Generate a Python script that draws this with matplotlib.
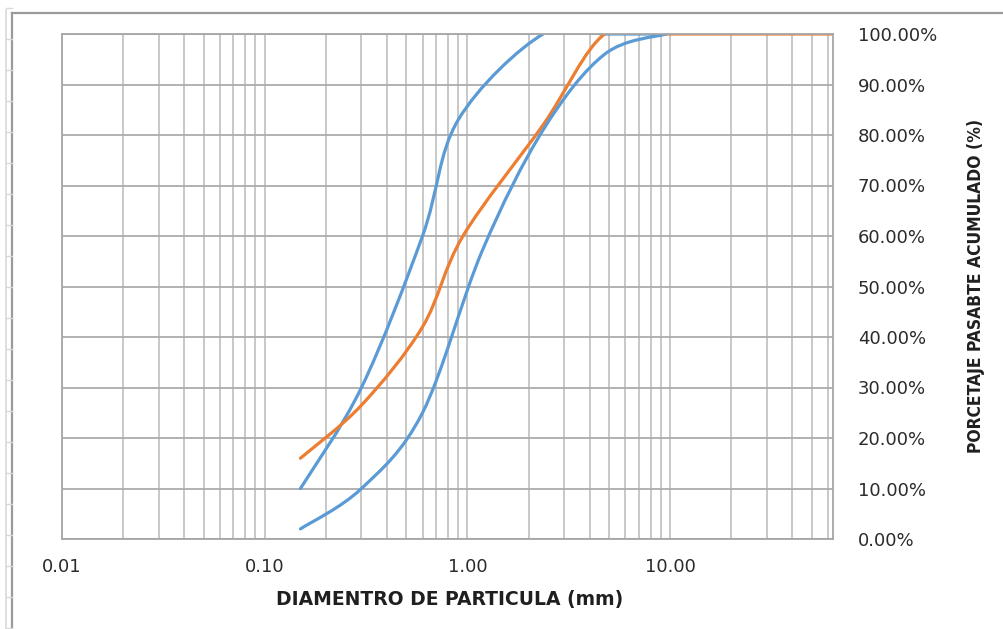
import numpy as np
import matplotlib.pyplot as plt
from matplotlib.path import Path
from matplotlib.patches import PathPatch
from matplotlib.lines import Line2D
from matplotlib.ticker import FixedLocator, FuncFormatter, LogLocator, NullFormatter

# abertura de tamiz (mm) y porcentaje pasante acumulado
tamiz_sup = [0.15, 0.30, 0.60, 0.90, 2.36, 4.75, 9.50]
pasa_sup = [10, 30, 60, 83, 100, 100, 100]

tamiz_muestra = [0.15, 0.30, 0.60, 0.95, 2.36, 4.75, 9.50, 12.5, 19.0, 25.0, 37.5, 50.0, 63.5]
pasa_muestra = [16, 26.5, 42, 60, 82, 100, 100, 100, 100, 100, 100, 100, 100]

tamiz_inf = [0.15, 0.30, 0.60, 1.18, 2.36, 4.75, 9.50]
pasa_inf = [2, 10, 25, 57, 81, 96, 100]

x_ticks = [0.01, 0.1, 1, 10]
y_ticks = list(range(0, 101, 10))

AZUL = '#5b9bd5'
NARANJA = '#ed7d31'


def curva_suave(x, y):
    # linea suavizada tipo Excel: bezier cubica en espacio log10(x)
    p = np.column_stack([np.log10(x), y]).astype(float)
    n = len(p)
    verts = [p[0]]
    codes = [Path.MOVETO]
    for i in range(n - 1):
        prev = p[i - 1] if i > 0 else p[i]
        nxt = p[i + 2] if i + 2 < n else p[i + 1]
        c1 = p[i] + (p[i + 1] - prev) / 6
        c2 = p[i + 1] - (nxt - p[i]) / 6
        verts += [c1, c2, p[i + 1]]
        codes += [Path.CURVE4] * 3
    verts = np.array(verts)
    verts[:, 0] = 10 ** verts[:, 0]
    return Path(verts, codes)


fig = plt.figure(figsize=(10.04, 6.29), dpi=100)
ax = fig.add_axes([62 / 1004, 1 - 539 / 629, (833 - 62) / 1004, (539 - 34) / 629])

ax.set_xscale('log')
ax.set_xlim(0.01, 63.5)
ax.set_ylim(0, 100)

ax.xaxis.set_major_locator(FixedLocator(x_ticks))
ax.xaxis.set_minor_locator(LogLocator(base=10, subs=np.arange(2, 10), numticks=20))
ax.xaxis.set_minor_formatter(NullFormatter())
ax.xaxis.set_major_formatter(FuncFormatter(lambda v, pos: f'{v:.2f}'))

ax.yaxis.tick_right()
ax.yaxis.set_major_locator(FixedLocator(y_ticks))
ax.yaxis.set_major_formatter(FuncFormatter(lambda v, pos: f'{v:.2f}%'))

ax.set_axisbelow(True)
ax.grid(True, which='both', axis='x', color='#c4c4c4', lw=1.3)
ax.grid(True, which='major', axis='y', color='#ababab', lw=1.3)
ax.tick_params(which='both', length=0)
ax.tick_params(axis='x', pad=14, labelsize=13, labelcolor='#2b2b2b')
ax.tick_params(axis='y', pad=18, labelsize=13, labelcolor='#2b2b2b')
for s in ax.spines.values():
    s.set_color('#a6a6a6')
    s.set_linewidth(1.3)

for x, y, color in [(tamiz_sup, pasa_sup, AZUL),
                    (tamiz_muestra, pasa_muestra, NARANJA),
                    (tamiz_inf, pasa_inf, AZUL)]:
    ax.add_patch(PathPatch(curva_suave(x, y), fill=False, edgecolor=color,
                           lw=2.3, capstyle='round', joinstyle='round'))

fig.text(450 / 1004, 1 - 600 / 629, 'DIAMENTRO DE PARTICULA (mm)',
         ha='center', va='center', fontsize=13.5, fontweight='bold', color='#1f1f1f')
fig.text(976 / 1004, 1 - 286 / 629, 'PORCETAJE PASABTE ACUMULADO (%)',
         ha='center', va='center', rotation=90, fontsize=12.5,
         fontweight='bold', fontstretch='condensed', color='#1f1f1f')

# borde del area del grafico y lineas de la hoja detras
fig.add_artist(Line2D([12.5 / 1004, 12.5 / 1004], [0, 1 - 12.5 / 629],
                      transform=fig.transFigure, color='#9a9a9a', lw=1.6))
fig.add_artist(Line2D([12.5 / 1004, 1], [1 - 12.5 / 629, 1 - 12.5 / 629],
                      transform=fig.transFigure, color='#9a9a9a', lw=1.6))
fig.add_artist(Line2D([6 / 1004, 6 / 1004], [0, 1 - 10 / 629],
                      transform=fig.transFigure, color='#d9d9d9', lw=1.2))
for yy in range(8, 629, 31):
    fig.add_artist(Line2D([6 / 1004, 12 / 1004], [1 - yy / 629] * 2,
                          transform=fig.transFigure, color='#d9d9d9', lw=1.0))

fig.savefig('out.png', dpi=100)
